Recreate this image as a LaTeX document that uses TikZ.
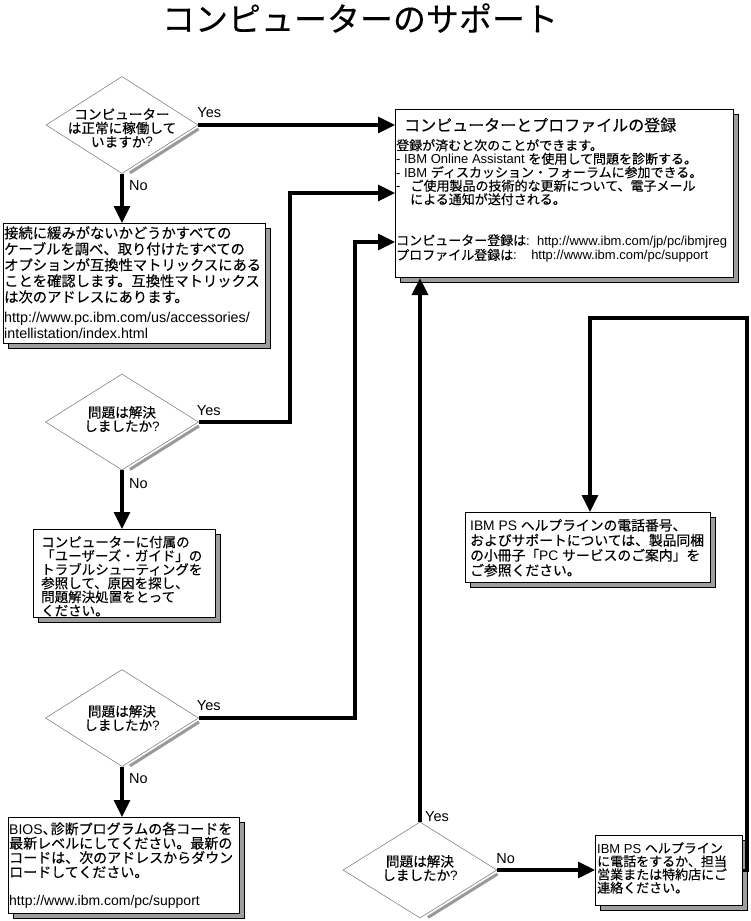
\documentclass[tikz,border=0pt]{standalone}
\usepackage{fontspec}
\setmainfont{Noto Sans CJK JP}[FakeBold=0.3]
\newfontfamily\lat{Liberation Sans}
\usetikzlibrary{shapes.geometric,arrows.meta,calc,shadows,backgrounds}
\newcommand\myfs[2]{\fontsize{#1}{#2}\selectfont}
\begin{document}
\begin{tikzpicture}[x=1pt,y=-1pt,
  conn/.style={line width=3.2pt,-{Triangle[length=17pt,width=16pt]}},
  plain/.style={line width=3.2pt},
  dia/.style={diamond,draw=black!55,line width=0.5pt,fill=white,inner sep=0pt},
  dsh/.style={line width=3pt,draw=black!40},
  box/.style={rectangle,draw=black,line width=1.1pt,fill=white,inner sep=0pt,anchor=north west,
    general shadow={shadow xshift=5pt,shadow yshift=-5pt,fill=black!38,draw=black,line width=0.8pt}},
  txt/.style={inner sep=0pt,anchor=north west,align=left},
  dtxt/.style={inner sep=0pt,align=center,font=\myfs{13.6}{13.8}},
  lbl/.style={inner sep=0pt,anchor=west,font=\lat\myfs{14.5}{16}},
]
\fill[white] (0,0) rectangle (750,921);
\useasboundingbox (0,0) rectangle (750,921);

% title
\node[font=\myfs{33}{36}] (title) at (360,18) {コンピューターのサポート};

% boxes
\node[box,minimum width=338pt,minimum height=168pt] (b1) at (395,109) {};
\node[box,minimum width=262pt,minimum height=120pt] (b2) at (3,223) {};
\node[box,minimum width=182pt,minimum height=88pt] (b3) at (33,529) {};
\node[box,minimum width=231pt,minimum height=96pt] (b4) at (8,817) {};
\node[box,minimum width=245pt,minimum height=70pt] (b5) at (465,512) {};
\node[box,minimum width=147pt,minimum height=70pt] (b6) at (595,835) {};

% diamonds
\node[dia,minimum width=152pt,minimum height=97pt] (d1) at (122,125) {};
\node[dia,minimum width=153pt,minimum height=96pt] (d2) at (122,422) {};
\node[dia,minimum width=153pt,minimum height=97pt] (d3) at (122,718) {};
\node[dia,minimum width=154pt,minimum height=96pt] (d4) at (420,870) {};
\foreach \d in {d1,d2,d3,d4}{
  \draw[dsh] ($(\d.east)!0.02!(\d.south)+(1.8,3)$) -- ($(\d.east)!0.92!(\d.south)+(1.8,3)$);
}

% diamond texts
\node[dtxt] (t1) at ($(d1)+(0,3)$) {コンピューター\\は正常に稼働して\\いますか{\lat ?}};
\node[dtxt] (t2) at ($(d2)+(0,-3)$) {問題は解決\\しましたか{\lat ?}};
\node[dtxt] (t3) at (d3) {問題は解決\\しましたか{\lat ?}};
\node[dtxt] (t4) at ($(d4)+(0,-2)$) {問題は解決\\しましたか{\lat ?}};

% box texts
\node[txt,font=\myfs{16}{18}] (b1h) at (404,117.5) {コンピューターとプロファイルの登録};
\node[txt,font=\myfs{13}{13.5}] (b1t) at (396,139) {登録が済むと次のことができます。\\
{\lat - IBM Online Assistant }を使用して問題を診断する。\\
{\lat - IBM }ディスカッション・フォーラムに参加できる。\\
{\lat -}\hspace*{10pt}ご使用製品の技術的な更新について、電子メール\\
\hspace*{14pt}による通知が送付される。\\[27.5pt]
コンピューター登録は{\lat :\ \ http://www.ibm.com/jp/pc/ibmjreg}\\
プロファイル登録は{\lat :\ \ \ \ http://www.ibm.com/pc/support}};

\node[txt,font=\myfs{14.3}{16}] (b2t) at (4,226) {接続に緩みがないかどうかすべての\\
ケーブルを調べ、取り付けたすべての\\
オプションが互換性マトリックスにある\\
ことを確認します。互換性マトリックス\\
は次のアドレスにあります。\\[4pt]
{\lat http://www.pc.ibm.com/us/accessories/}\\
{\lat intellistation/index.html}};

\node[txt,font=\myfs{13.5}{13.7}] (b3t) at (41,535.7) {コンピューターに付属の\\
「ユーザーズ・ガイド」の\\
トラブルシューティングを\\
参照して、原因を探し、\\
問題解決処置をとって\\
ください。};

\node[txt,font=\myfs{14}{14.4}] (b4t) at (9,822) {{\lat BIOS}、\hspace{-6pt}診断プログラムの各コードを\\
最新レベルにしてください。最新の\\
コードは、次のアドレスからダウン\\
ロードしてください。\\[13.9pt]
{\lat http://www.ibm.com/pc/support}};

\node[txt,font=\myfs{13.8}{15}] (b5t) at (470,518.8) {{\lat IBM PS }ヘルプラインの電話番号、\\
およびサポートについては、製品同梱\\
の小冊子「{\lat PC }サービスのご案内」を\\
ご参照ください。};

\node[txt,font=\myfs{13}{13.2}] (b6t) at (597,842) {{\lat IBM PS }ヘルプライン\\
に電話をするか、担当\\
営業または特約店にご\\
連絡ください。};

% junction points
\coordinate (j2) at (290,193);
\coordinate (j3) at (355,242);
\coordinate (j6a) at (747,318);
\coordinate (j6b) at (590,318);

% plain lines (under boxes)
\begin{scope}[on background layer]
\draw[plain] (d2.north |- b2.south) -- (d2.north);
\draw[plain] (d3.north |- b3.south) -- (d3.north);
\draw[plain] (d4.west -| b4.east) -- (d4.west);
\end{scope}

% arrows
\draw[conn] (d1.east) -- (d1.east -| b1.west);
\draw[conn] (d1.south) -- (d1.south |- b2.north);
\draw[conn] (d2.east) -| (j2) -- (j2 -| b1.west);
\draw[conn] (d2.south) -- (d2.south |- b3.north);
\draw[conn] (d3.east) -| (j3) -- (j3 -| b1.west);
\draw[conn] (d3.south) -- (d3.south |- b4.north);
\draw[conn] (d4.north) -- (d4.north |- b1.south);
\draw[conn] (d4.east) -- (d4.east -| b6.west);
\draw[conn] (b6.east) -| (j6a) -- (j6b) -- (j6b |- b5.north);

% labels
\node[lbl] (y1) at ($(d1.east)+(-1,-12)$) {Yes};
\node[lbl] (n1) at ($(d1.south)+(7,12)$) {No};
\node[lbl] (y2) at ($(d2.east)+(-2,-11)$) {Yes};
\node[lbl] (n2) at ($(d2.south)+(7,13)$) {No};
\node[lbl] (y3) at ($(d3.east)+(-2,-12)$) {Yes};
\node[lbl] (n3) at ($(d3.south)+(7,12)$) {No};
\node[lbl] (y4) at ($(d4.north)+(5,-5)$) {Yes};
\node[lbl] (n4) at ($(d4.east)+(-1,-11)$) {No};
\end{tikzpicture}
\end{document}
